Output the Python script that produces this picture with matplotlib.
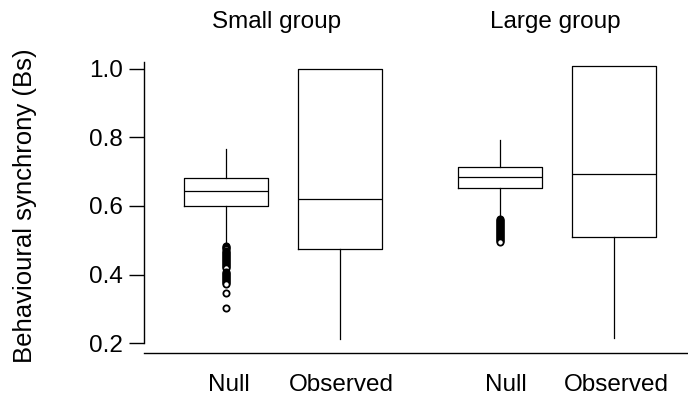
import matplotlib.pyplot as plt

plt.rcParams['font.family'] = ['Liberation Sans', 'DejaVu Sans']

# box summaries read per condition
labels = ['Null', 'Observed', 'Null', 'Observed']
groups = ['Small group', 'Large group']
q1 = [0.600, 0.474, 0.653, 0.510]
med = [0.644, 0.620, 0.685, 0.693]
q3 = [0.682, 1.000, 0.714, 1.008]
whislo = [0.483, 0.212, 0.565, 0.215]
whishi = [0.766, 1.000, 0.793, 1.008]
fliers_small = [0.482, 0.479, 0.476, 0.473, 0.470, 0.467, 0.464, 0.461, 0.458,
                0.455, 0.452, 0.449, 0.446, 0.443, 0.440, 0.437, 0.434, 0.431,
                0.428, 0.425, 0.422, 0.419, 0.407, 0.404, 0.401, 0.398, 0.395,
                0.392, 0.389, 0.386, 0.383, 0.380, 0.377, 0.374, 0.371, 0.346,
                0.302]
fliers_large = [0.563, 0.560, 0.557, 0.554, 0.551, 0.548, 0.545, 0.542, 0.539,
                0.536, 0.533, 0.530, 0.527, 0.524, 0.521, 0.518, 0.515, 0.512,
                0.509, 0.506, 0.503, 0.500, 0.497, 0.494]
fliers = [fliers_small, [], fliers_large, []]

positions = [1, 2, 3.4, 4.4]
label_x = [1.02, 2.01, 3.45, 4.42]
group_x = [1.44, 3.89]

stats = []
for i in range(4):
    stats.append({'med': med[i], 'q1': q1[i], 'q3': q3[i],
                  'whislo': whislo[i], 'whishi': whishi[i],
                  'fliers': fliers[i]})

fig = plt.figure(figsize=(6.88, 3.96), dpi=100)
ax = fig.add_axes([0.2093, 0.1086, 0.7907, 0.7348])

line = dict(color='black', linewidth=0.9)
ax.bxp(stats, positions=positions, widths=0.74, showcaps=False,
       boxprops=line, medianprops=line, whiskerprops=line,
       flierprops=dict(marker='o', markersize=4.5, markerfacecolor='white',
                       markeredgecolor='black', markeredgewidth=1.3))

ax.set_xlim(0.28, 5.05)
ax.set_ylim(0.171, 1.02)
ax.set_yticks([0.2, 0.4, 0.6, 0.8, 1.0])
ax.set_yticklabels(['0.2', '0.4', '0.6', '0.8', '1.0'])
ax.set_xticks([])

ax.spines['top'].set_visible(False)
ax.spines['right'].set_visible(False)
ax.spines['left'].set_bounds(0.2, 1.02)
ax.spines['left'].set_linewidth(1.0)
ax.spines['bottom'].set_linewidth(1.0)
ax.tick_params(axis='y', length=11, width=1.0, pad=4, labelsize=17.5)

ax.set_ylabel('Behavioural synchrony (Bs)', fontsize=18.5)
ax.yaxis.set_label_coords(-0.196, 0.505)

for x, lab in zip(label_x, labels):
    ax.text(x, -0.1306, lab, transform=ax.get_xaxis_transform(),
            ha='center', va='baseline', fontsize=17.5)

for x, g in zip(group_x, groups):
    ax.text(x, 1.117, g, transform=ax.get_xaxis_transform(),
            ha='center', va='baseline', fontsize=17.5)

fig.savefig('out.png', dpi=100)
